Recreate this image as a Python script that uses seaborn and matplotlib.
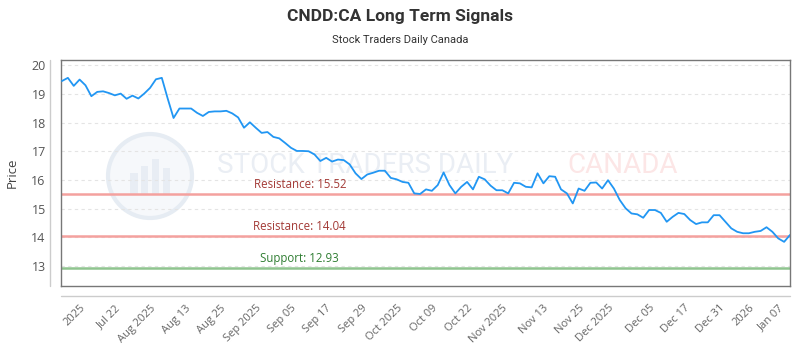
import numpy as np
import pandas as pd
import matplotlib
matplotlib.use("Agg")
import matplotlib.pyplot as plt
from matplotlib.lines import Line2D
from matplotlib.patches import Ellipse
import seaborn as sns

# ---- data ----
prices = [
    19.45, 19.56, 19.28, 19.50, 19.30, 18.92, 19.07, 19.09, 19.03, 18.95,
    19.01, 18.83, 18.94, 18.84, 19.01, 19.21, 19.51, 19.56, 18.84, 18.16,
    18.49, 18.49, 18.49, 18.34, 18.23, 18.37, 18.39, 18.39, 18.41, 18.32,
    18.18, 17.82, 18.01, 17.82, 17.64, 17.67, 17.50, 17.45, 17.29, 17.12,
    17.01, 17.01, 17.00, 16.89, 16.66, 16.77, 16.64, 16.71, 16.69, 16.54,
    16.23, 16.03, 16.19, 16.25, 16.32, 16.32, 16.07, 16.02, 15.93, 15.90,
    15.53, 15.51, 15.67, 15.62, 15.82, 16.26, 15.82, 15.53, 15.76, 15.93,
    15.67, 16.11, 16.02, 15.80, 15.64, 15.64, 15.53, 15.90, 15.88, 15.76,
    15.74, 16.23, 15.88, 16.13, 16.11, 15.67, 15.53, 15.18, 15.70, 15.62,
    15.90, 15.91, 15.70, 15.99, 15.70, 15.30, 15.01, 14.83, 14.80, 14.68,
    14.95, 14.95, 14.85, 14.54, 14.71, 14.85, 14.81, 14.60, 14.46, 14.52,
    14.52, 14.77, 14.77, 14.54, 14.31, 14.19, 14.14, 14.14, 14.19, 14.22,
    14.35, 14.19, 13.96, 13.84, 14.08,
]
tick_labels = ["2025", "Jul 22", "Aug 2025", "Aug 13", "Aug 25", "Sep 2025",
               "Sep 05", "Sep 17", "Sep 29", "Oct 2025", "Oct 09", "Oct 22",
               "Nov 2025", "Nov 13", "Nov 25", "Dec 2025", "Dec 05", "Dec 17",
               "Dec 31", "2026", "Jan 07"]
tick_index = [3, 9, 15, 21, 27, 33, 39, 45, 51, 57, 63, 69, 75, 82, 88, 93,
              100, 106, 112, 117, 122]
level_names = ["Resistance", "Resistance", "Support"]
level_values = [15.52, 14.04, 12.93]

title = "CNDD:CA Long Term Signals"
subtitle = "Stock Traders Daily Canada"

df = pd.DataFrame({"idx": np.arange(len(prices)), "price": prices})

sns.set_theme(style="white")
plt.rcParams["font.family"] = ["Open Sans", "DejaVu Sans"]

fig = plt.figure(figsize=(8, 3.5), dpi=100)
ax = fig.add_axes([61 / 800, 1 - 286 / 350, 729 / 800, (286 - 59.5) / 350])

# watermark
ax.add_patch(Ellipse(((150 - 61) / 729, (286 - 176) / 226.5), 84 / 729, 84 / 226.5,
                     transform=ax.transAxes, facecolor="#f6f8fb", edgecolor="#e6ecf3",
                     lw=3, zorder=0))
for bx, bh in [(0.095, 0.10), (0.11, 0.13), (0.125, 0.16), (0.14, 0.12)]:
    ax.add_patch(plt.Rectangle((bx, 0.40), 0.010, bh, transform=ax.transAxes,
                               facecolor="#e8edf4", edgecolor="none", zorder=0))
ax.text((365 - 61) / 729, (286 - 165) / 226.5, "STOCK TRADERS DAILY", transform=ax.transAxes,
        ha="center", va="center", fontsize=20, color="#eaeef4", family="Roboto",
        zorder=0)
ax.text((623 - 61) / 729, (286 - 165) / 226.5, "CANADA", transform=ax.transAxes,
        ha="center", va="center", fontsize=20, color="#fce6e6", family="Roboto",
        zorder=0)

# grid
for v in range(13, 21):
    ax.axhline(v, color="#e4e4e4", lw=0.8, ls=(0, (3, 3)), zorder=1)

# levels
level_colors = ["#f4a19e", "#f4a19e", "#8fc48f"]
text_colors = ["#a33a36", "#a33a36", "#2f7d32"]
for name, val, lc, tc in zip(level_names, level_values, level_colors, text_colors):
    ax.axhline(val, color=lc, lw=1.8, zorder=2)
    ax.text(40.5, val + 0.1, f"{name}: {val:.2f}", ha="center", va="bottom",
            fontsize=8.3, color=tc, zorder=3)

sns.lineplot(data=df, x="idx", y="price", ax=ax, color="#2196f3", lw=1.3, zorder=4)

ax.set_xlim(-0.17, len(prices) - 1)
ax.set_ylim(12.3, 20.2)
ax.set_yticks(range(13, 21))
ax.set_yticklabels([str(v) for v in range(13, 21)], fontsize=9, color="#555555")
ax.set_xticks(tick_index)
ax.set_xticklabels(tick_labels, rotation=45, ha="right", rotation_mode="anchor",
                   fontsize=8, color="#666666")
ax.tick_params(axis="both", length=0)
ax.tick_params(axis="y", pad=11)
ax.tick_params(axis="x", pad=12)
ax.set_xlabel("")
ax.set_ylabel("Price", fontsize=9.5, color="#444444", labelpad=9)

for s in ax.spines.values():
    s.set_visible(True)
    s.set_color("#777777")
    s.set_linewidth(1.0)

# offset axis lines
ax.add_line(Line2D([-11 / 729, -11 / 729], [0, 1], transform=ax.transAxes,
                   color="#cccccc", lw=1, clip_on=False))
ax.add_line(Line2D([0, 1], [-10 / 226.5, -10 / 226.5], transform=ax.transAxes,
                   color="#cccccc", lw=1, clip_on=False))

fig.text(0.5, 1 - 16 / 350, title, ha="center", va="center", fontsize=12.5,
         fontweight="bold", color="#333333", family=["Roboto", "DejaVu Sans"])
fig.text(0.5, 1 - 40 / 350, subtitle, ha="center", va="center", fontsize=8,
         color="#333333", family=["Roboto", "DejaVu Sans"])

fig.savefig("out.png", dpi=100)
